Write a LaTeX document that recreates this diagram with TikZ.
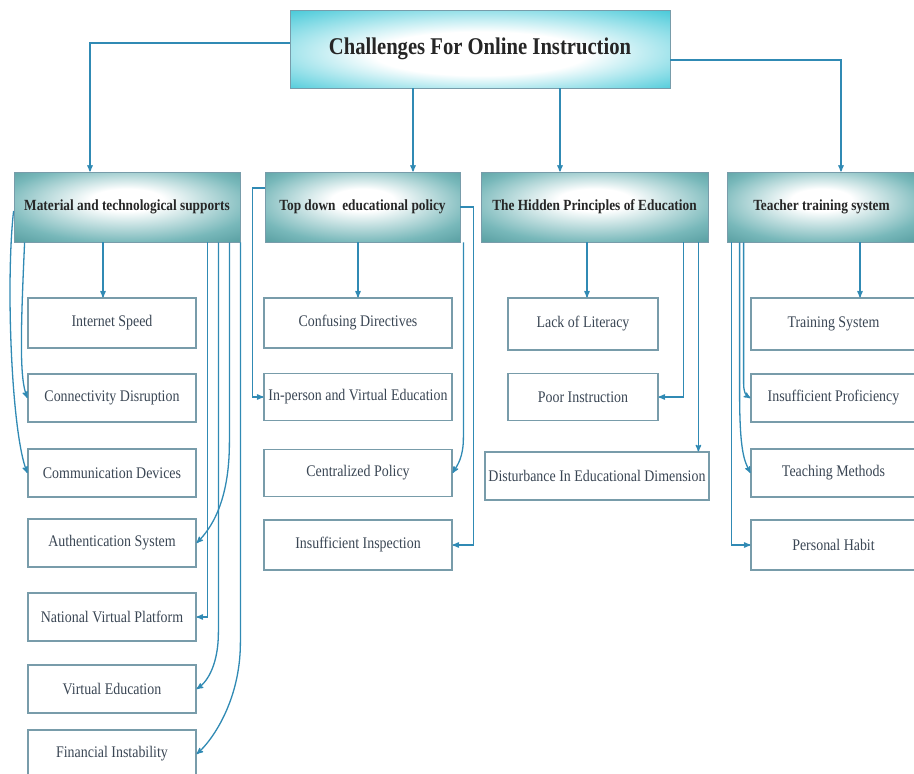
\documentclass[tikz,border=0pt]{standalone}
\usepackage{fontspec}
\setmainfont{Liberation Serif}[FakeStretch=0.86]
\usepackage{tikz}
\usetikzlibrary{arrows}

\definecolor{linkblue}{RGB}{48,138,180}
\definecolor{edgegray}{RGB}{120,156,170}
\definecolor{itemtext}{RGB}{58,70,84}
\definecolor{catteal}{RGB}{58,134,138}
\definecolor{catmid}{RGB}{120,184,186}
\definecolor{rootcyan}{RGB}{40,192,210}

\pgfdeclareradialshading{catshade}{\pgfpoint{0bp}{6bp}}{color(0bp)=(white); color(8bp)=(white); color(28bp)=(catmid); color(45bp)=(catteal); color(50bp)=(catteal)}
\pgfdeclareradialshading{rootshade}{\pgfpoint{0bp}{-4bp}}{color(0bp)=(white); color(14bp)=(white); color(40bp)=(rootcyan); color(50bp)=(rootcyan)}

\begin{document}
\begin{tikzpicture}[x=1pt,y=-1pt,>=stealth',
  root/.style={draw=edgegray,line width=0.8pt,shade,shading=rootshade,minimum width=380pt,minimum height=78pt,inner sep=0pt,font=\fontsize{24}{27}\selectfont\bfseries,text=black!85},
  cat/.style={draw=edgegray,line width=0.8pt,shade,shading=catshade,minimum height=70pt,inner sep=0pt,font=\fontsize{15.5}{18}\selectfont\bfseries,text=black!85},
  item/.style={draw=edgegray,line width=1.2pt,fill=white,minimum height=48pt,inner sep=0pt,font=\fontsize{16.2}{18}\selectfont,text=itemtext},
  link/.style={->,draw=linkblue,line width=1.3pt}]
  \fill[white] (0,0) rectangle (914,774);
  \useasboundingbox (0,0) rectangle (914,774);

  % top and the four branches
  \node[root] (root) at (480,49) {Challenges For Online Instruction};
  \node[cat,minimum width=226pt] (mat) at (127,207) {Material and technological supports};
  \node[cat,minimum width=195pt] (pol) at (362.5,207) {Top down\ \ educational policy};
  \node[cat,minimum width=227pt] (hid) at (594.5,207) {The Hidden Principles of Education};
  \node[cat,minimum width=189pt] (tea) at (821.5,207) {Teacher training system};

  % material column
  \node[item,minimum width=168pt,minimum height=50pt] (inet) at (112,323) {Internet Speed};
  \node[item,minimum width=168pt] (conn) at (112,398) {Connectivity Disruption};
  \node[item,minimum width=168pt] (comm) at (112,473) {Communication Devices};
  \node[item,minimum width=168pt] (auth) at (112,543) {Authentication System};
  \node[item,minimum width=168pt] (natv) at (112,617) {National Virtual Platform};
  \node[item,minimum width=168pt] (virt) at (112,689) {Virtual Education};
  \node[item,minimum width=168pt] (fin) at (112,754) {Financial Instability};

  % policy column
  \node[item,minimum width=188pt,minimum height=50pt] (conf) at (358,323) {Confusing Directives};
  \node[item,minimum width=188pt,minimum height=47pt] (inper) at (358,397) {In-person and Virtual Education};
  \node[item,minimum width=188pt,minimum height=47pt] (cent) at (358,473) {Centralized Policy};
  \node[item,minimum width=188pt,minimum height=50pt] (insp) at (358,545) {Insufficient Inspection};

  % hidden principles column
  \node[item,minimum width=150pt,minimum height=52pt] (lit) at (583,324) {Lack of Literacy};
  \node[item,minimum width=150pt,minimum height=47pt] (poor) at (583,397) {Poor Instruction};
  \node[item,minimum width=224pt] (dist) at (597,476) {Disturbance In Educational Dimension};

  % teacher column
  \node[item,minimum width=165pt,minimum height=52pt] (train) at (833.5,324) {Training System};
  \node[item,minimum width=165pt] (prof) at (833.5,398) {Insufficient Proficiency};
  \node[item,minimum width=165pt] (meth) at (833.5,473) {Teaching Methods};
  \node[item,minimum width=165pt,minimum height=50pt] (habit) at (833.5,545) {Personal Habit};

  % root to branches
  \coordinate (r1) at ([xshift=-67pt]root.south);
  \coordinate (r2) at ([xshift=80pt]root.south);
  \draw[link] ([yshift=6pt]root.west) -| ([xshift=-37pt]mat.north);
  \draw[link] ([yshift=-11pt]root.east) -| ([xshift=19.5pt]tea.north);
  \draw[link] (r1) -- (r1 |- pol.north);
  \draw[link] (r2) -- (r2 |- hid.north);

  % material links
  \coordinate (m0) at ([xshift=-9pt]inet.north);
  \draw[link] (m0 |- mat.south) -- (m0);
  \draw[link] ([xshift=11pt]mat.south west) .. controls +(-4,90) and +(-8,-20) .. (conn.west);
  \draw[link] ([yshift=-4pt]mat.west) .. controls +(-8,70) and +(-16,-40) .. (comm.west);
  \draw[link] ([xshift=-11pt]mat.south east) -- ++(0,200) .. controls +(0,60) and +(14,-14) .. (auth.east);
  \draw[link] ([xshift=-33pt]mat.south east) |- (natv.east);
  \draw[link] ([xshift=-22pt]mat.south east) -- ++(0,390) .. controls +(0,30) and +(12,-8) .. (virt.east);
  \draw[link] (mat.south east) -- ++(0,400) .. controls +(0,60) and +(14,-12) .. (fin.east);

  % policy links
  \draw[link] (conf.north |- pol.south) -- (conf.north);
  \draw[link] ([yshift=19pt]pol.west) -- ++(-12,0) |- (inper.west);
  \draw[link] (pol.east) -- ++(13,0) |- (insp.east);
  \draw[link] ([xshift=3pt]pol.south east) -- ++(0,195) .. controls +(0,20) and +(5,-8) .. (cent.east);

  % hidden principles links
  \coordinate (h0) at ([xshift=4pt]lit.north);
  \coordinate (h1) at ([xshift=-10pt]hid.south east);
  \draw[link] (h0 |- hid.south) -- (h0);
  \draw[link] ([xshift=-25pt]hid.south east) |- (poor.east);
  \draw[link] (h1) -- (h1 |- dist.north);

  % teacher links
  \coordinate (t0) at ([xshift=26.5pt]train.north);
  \draw[link] (t0 |- tea.south) -- (t0);
  \draw[link] ([xshift=5pt]tea.south west) |- (habit.west);
  \draw[link] ([xshift=17pt]tea.south west) -- ++(0,140) .. controls +(0,10) and +(-5,-3) .. (prof.west);
  \draw[link] ([xshift=13pt]tea.south west) -- ++(0,150) .. controls +(0,60) and +(-6,-12) .. (meth.west);
\end{tikzpicture}
\end{document}
